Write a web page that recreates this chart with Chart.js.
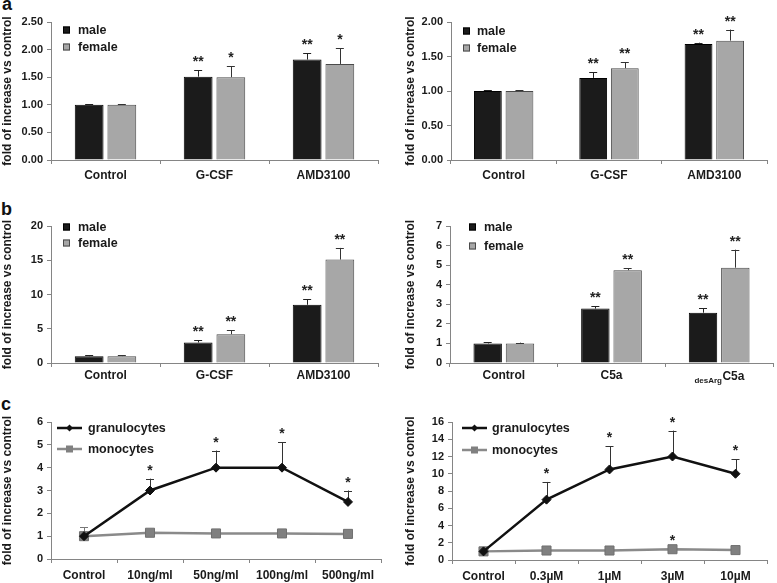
<!DOCTYPE html>
<html>
<head>
<meta charset="utf-8">
<script src="https://cdn.jsdelivr.net/npm/chart.js@4.4.0/dist/chart.umd.min.js"></script>
<style>
  html, body { margin:0; padding:0; background:#fff; }
  body { width:777px; height:583px; position:relative; overflow:hidden; font-family:"Liberation Sans", Arial, sans-serif; }
  canvas { position:absolute; }
  .plab { position:absolute; font-weight:bold; font-size:18px; line-height:18px; color:#111; }
</style>
</head>
<body>
<div class="plab" style="left:2px;top:-5px;">a</div>
<div class="plab" style="left:1px;top:200px;">b</div>
<div class="plab" style="left:1px;top:395px;">c</div>
<canvas id="aL" width="390" height="195" style="left:0px;top:0px"></canvas>
<canvas id="aR" width="374" height="195" style="left:403px;top:0px"></canvas>
<canvas id="bL" width="390" height="195" style="left:0px;top:195px"></canvas>
<canvas id="bR" width="374" height="195" style="left:403px;top:195px"></canvas>
<canvas id="cL" width="390" height="193" style="left:0px;top:390px"></canvas>
<canvas id="cR" width="374" height="193" style="left:403px;top:390px"></canvas>
<script>
// ---------------- DATA ----------------
const yTitle = 'fold of increase vs control';
const sexLabels = ['male', 'female'];
const cellLabels = ['granulocytes', 'monocytes'];

// panel a (left)
const aCats = ['Control', 'G-CSF', 'AMD3100'];
const aLeftMale = [1.00, 1.51, 1.82];
const aLeftMaleErr = [0.01, 0.12, 0.11];
const aLeftMaleSig = ['', '**', '**'];
const aLeftFemale = [1.00, 1.50, 1.74];
const aLeftFemaleErr = [0.01, 0.20, 0.28];
const aLeftFemaleSig = ['', '*', '*'];
const aLeftTicks = [0, 0.5, 1.0, 1.5, 2.0, 2.5];

// panel a (right)
const aRightMale = [1.00, 1.19, 1.68];
const aRightMaleErr = [0.01, 0.08, 0.02];
const aRightMaleSig = ['', '**', '**'];
const aRightFemale = [1.00, 1.33, 1.73];
const aRightFemaleErr = [0.01, 0.09, 0.16];
const aRightFemaleSig = ['', '**', '**'];
const aRightTicks = [0, 0.5, 1.0, 1.5, 2.0];

// panel b (left)
const bLeftCats = ['Control', 'G-CSF', 'AMD3100'];
const bLeftMale = [1.0, 3.0, 8.5];
const bLeftMaleErr = [0.1, 0.3, 0.8];
const bLeftMaleSig = ['', '**', '**'];
const bLeftFemale = [1.0, 4.2, 15.1];
const bLeftFemaleErr = [0.1, 0.6, 1.7];
const bLeftFemaleSig = ['', '**', '**'];
const bLeftTicks = [0, 5, 10, 15, 20];

// panel b (right)
const bRightCats = ['Control', 'C5a', 'desArgC5a'];
const bRightMale = [1.0, 2.78, 2.57];
const bRightMaleErr = [0.05, 0.12, 0.24];
const bRightMaleSig = ['', '**', '**'];
const bRightFemale = [1.0, 4.74, 4.87];
const bRightFemaleErr = [0.04, 0.10, 0.92];
const bRightFemaleSig = ['', '**', '**'];
const bRightTicks = [0, 1, 2, 3, 4, 5, 6, 7];

// panel c (left)
const cLeftCats = ['Control', '10ng/ml', '50ng/ml', '100ng/ml', '500ng/ml'];
const cLeftGran = [1.0, 3.0, 4.0, 4.0, 2.5];
const cLeftGranErr = [0, 0.52, 0.75, 1.12, 0.5];
const cLeftGranSig = ['', '*', '*', '*', '*'];
const cLeftMono = [1.0, 1.15, 1.12, 1.12, 1.1];
const cLeftMonoErr = [0.38, 0, 0, 0, 0];
const cLeftMonoSig = ['', '', '', '', ''];
const cLeftTicks = [0, 1, 2, 3, 4, 5, 6];

// panel c (right)
const cRightCats = ['Control', '0.3µM', '1µM', '3µM', '10µM'];
const cRightGran = [1.0, 7.0, 10.5, 12.0, 10.0];
const cRightGranErr = [0, 2.05, 2.7, 3.0, 1.7];
const cRightGranSig = ['', '*', '*', '*', '*'];
const cRightMono = [1.0, 1.1, 1.1, 1.25, 1.15];
const cRightMonoErr = [0, 0, 0, 0, 0];
const cRightMonoSig = ['', '', '', '*', ''];
const cRightTicks = [0, 2, 4, 6, 8, 10, 12, 14, 16];

// ---------------- STYLE ----------------
const FONT = '"Liberation Sans", Arial, Helvetica, sans-serif';
Chart.defaults.font.family = FONT;
Chart.defaults.font.weight = 'bold';
Chart.defaults.color = '#1a1a1a';
const AXIS = '#858585';
const MALE = '#1b1b1b';
const FEMALE = '#a7a7a7';
const GRAN = '#111111';
const MONO = '#8a8a8a';

const errPlugin = {
  id: 'errbars',
  beforeDatasetsDraw(chart) {
    const ctx = chart.ctx, ys = chart.scales.y;
    chart.data.datasets.forEach((ds, di) => {
      const meta = chart.getDatasetMeta(di);
      meta.data.forEach((el, i) => {
        const e = (ds.errors || [])[i] || 0;
        if (e <= 0) return;
        const yTop = ys.getPixelForValue(ds.data[i] + e);
        ctx.save();
        ctx.strokeStyle = ds.errColor || '#333';
        ctx.lineWidth = 1;
        ctx.beginPath();
        ctx.moveTo(Math.round(el.x) + 0.5, el.y);
        ctx.lineTo(Math.round(el.x) + 0.5, yTop);
        ctx.moveTo(el.x - 4, Math.round(yTop) + 0.5);
        ctx.lineTo(el.x + 4, Math.round(yTop) + 0.5);
        ctx.stroke();
        ctx.restore();
      });
    });
  },
  afterDatasetsDraw(chart) {
    const ctx = chart.ctx, ys = chart.scales.y;
    chart.data.datasets.forEach((ds, di) => {
      const meta = chart.getDatasetMeta(di);
      meta.data.forEach((el, i) => {
        const s = (ds.sig || [])[i];
        if (!s) return;
        const e = (ds.errors || [])[i] || 0;
        const yTop = ys.getPixelForValue(ds.data[i] + e);
        ctx.save();
        ctx.font = 'bold 14px ' + FONT;
        ctx.fillStyle = '#222';
        ctx.textAlign = 'center';
        ctx.textBaseline = 'alphabetic';
        ctx.fillText(s, el.x, yTop - 12 + 8);
        ctx.restore();
      });
    });
  }
};

function legendPlugin(kind, pos) {
  return {
    id: 'insideLegend',
    afterDraw(chart) {
      const ctx = chart.ctx, a = chart.chartArea;
      ctx.save();
      chart.data.datasets.forEach((ds, i) => {
        const y = a.top + pos.ys[i];
        if (kind === 'bar') {
          const x = a.left + pos.box;
          ctx.fillStyle = ds.backgroundColor;
          ctx.strokeStyle = ds.borderColor;
          ctx.lineWidth = 1;
          ctx.fillRect(x, y - 3.5, 7, 7);
          ctx.strokeRect(x + 0.5, y - 3.5 + 0.5, 6, 6);
        } else {
          const x0 = a.left + pos.l0, x1 = a.left + pos.l1;
          ctx.strokeStyle = ds.borderColor;
          ctx.lineWidth = 2.5;
          ctx.beginPath(); ctx.moveTo(x0, y); ctx.lineTo(x1, y); ctx.stroke();
          const cx = (x0 + x1) / 2;
          ctx.fillStyle = ds.pointBackgroundColor;
          if (ds.pointStyle === 'rectRot') {
            ctx.beginPath(); ctx.moveTo(cx, y - 3.5); ctx.lineTo(cx + 3.5, y); ctx.lineTo(cx, y + 3.5); ctx.lineTo(cx - 3.5, y); ctx.closePath(); ctx.fill();
          } else {
            ctx.fillRect(cx - 3.5, y - 3.5, 7, 7);
          }
        }
        ctx.font = 'bold 12.5px ' + FONT;
        ctx.fillStyle = '#1a1a1a';
        ctx.textAlign = 'left';
        ctx.textBaseline = 'middle';
        ctx.fillText(ds.label, a.left + pos.text, y + 0.5);
      });
      ctx.restore();
    }
  };
}

function scalesFor(g, ticksArr, decimals, isLine, xCallback) {
  return {
    x: {
      offset: true,
      border: { color: AXIS, width: 1 },
      grid: { display: true, drawOnChartArea: false, drawTicks: true, tickLength: 4, color: AXIS, offset: true },
      ticks: { padding: g.lp, font: { size: 12, weight: 'bold' }, color: '#1a1a1a', maxRotation: 0, autoSkip: false,
        callback: xCallback || function (v) { return this.getLabelForValue(v); } },
      afterFit(s) { s.height = g.xh; }
    },
    y: {
      min: ticksArr[0], max: ticksArr[ticksArr.length - 1],
      border: { color: AXIS, width: 1 },
      grid: { display: true, drawOnChartArea: false, drawTicks: true, tickLength: 4, color: AXIS },
      afterBuildTicks(s) { s.ticks = ticksArr.map(v => ({ value: v })); },
      ticks: { padding: 4, font: { size: 11, weight: 'bold' }, color: '#1a1a1a',
        callback: v => Number(v).toFixed(decimals) },
      title: { display: true, text: yTitle, font: { size: 12, weight: 'bold' }, color: '#1a1a1a', padding: { top: 0, bottom: 0 } },
      afterFit(s) { s.width = g.yw; }
    }
  };
}

function barPanel(id, g, cats, m, me, ms, f, fe, fs, ticksArr, dec, leg, extraPlugins, xCallback) {
  new Chart(document.getElementById(id), {
    type: 'bar',
    data: {
      labels: cats,
      datasets: [
        { label: sexLabels[0], data: m, errors: me, sig: ms, backgroundColor: MALE, borderColor: '#000', borderWidth: 1,
          categoryPercentage: 0.6, barPercentage: 0.88, errColor: '#222' },
        { label: sexLabels[1], data: f, errors: fe, sig: fs, backgroundColor: FEMALE, borderColor: '#4a4a4a', borderWidth: 1,
          categoryPercentage: 0.6, barPercentage: 0.88, errColor: '#333' }
      ]
    },
    options: {
      responsive: false, animation: false, events: [],
      layout: { padding: { top: g.pt, right: g.pr, left: 0, bottom: 0 } },
      plugins: { legend: { display: false }, tooltip: { enabled: false } },
      scales: scalesFor(g, ticksArr, dec, false, xCallback)
    },
    plugins: [errPlugin, legendPlugin('bar', leg)].concat(extraPlugins || [])
  });
}

function linePanel(id, g, cats, gr, gre, grs, mo, moe, mos, ticksArr, leg) {
  new Chart(document.getElementById(id), {
    type: 'line',
    data: {
      labels: cats,
      datasets: [
        { label: cellLabels[1], data: mo, errors: moe, sig: mos, borderColor: MONO, backgroundColor: MONO, borderWidth: 2.5,
          pointStyle: 'rect', pointRadius: 6.4, pointBackgroundColor: '#808080', pointBorderColor: '#707070', pointBorderWidth: 1,
          tension: 0, errColor: '#777', order: 2 },
        { label: cellLabels[0], data: gr, errors: gre, sig: grs, borderColor: GRAN, backgroundColor: GRAN, borderWidth: 2.5,
          pointStyle: 'rectRot', pointRadius: 4.5, pointBackgroundColor: GRAN, pointBorderColor: GRAN, pointBorderWidth: 1,
          tension: 0, errColor: '#333', order: 1 }
      ]
    },
    options: {
      responsive: false, animation: false, events: [],
      layout: { padding: { top: g.pt, right: g.pr, left: 0, bottom: 0 } },
      plugins: { legend: { display: false }, tooltip: { enabled: false } },
      scales: scalesFor(g, ticksArr, 0, true)
    },
    plugins: [errPlugin, legendPlugin('line', leg)]
  });
}

// geometry (canvas-relative): yw = y-axis width, xh = x-axis height, pt = top pad, pr = right pad, lp = x label padding
barPanel('aL', { yw: 51, xh: 35, pt: 22, pr: 12, lp: 4 }, aCats, aLeftMale, aLeftMaleErr, aLeftMaleSig,
  aLeftFemale, aLeftFemaleErr, aLeftFemaleSig, aLeftTicks, 2, { box: 12, ys: [8, 25], text: 27 });
barPanel('aR', { yw: 48, xh: 35, pt: 22, pr: 10, lp: 4 }, aCats, aRightMale, aRightMaleErr, aRightMaleSig,
  aRightFemale, aRightFemaleErr, aRightFemaleSig, aRightTicks, 2, { box: 12, ys: [9, 26], text: 26 });
barPanel('bL', { yw: 51, xh: 27, pt: 31, pr: 12, lp: 1 }, bLeftCats, bLeftMale, bLeftMaleErr, bLeftMaleSig,
  bLeftFemale, bLeftFemaleErr, bLeftFemaleSig, bLeftTicks, 0, { box: 12, ys: [1, 17], text: 27 });

const desArgPlugin = {
  id: 'desArg',
  afterDraw(chart) {
    const xs = chart.scales.x, ctx = chart.ctx;
    const cx = xs.getPixelForTick(2);
    const y = xs.top + 4 + 1 + 12;
    ctx.save();
    ctx.fillStyle = '#1a1a1a';
    ctx.textBaseline = 'alphabetic';
    ctx.textAlign = 'left';
    ctx.font = 'bold 8px ' + FONT;
    const sub = 'desArg';
    const main = 'C5a';
    const w1 = ctx.measureText(sub).width;
    ctx.font = 'bold 12px ' + FONT;
    const w2 = ctx.measureText(main).width;
    const x0 = cx - (w1 + w2) / 2;
    ctx.font = 'bold 8px ' + FONT;
    ctx.fillText(sub, x0, y + 3);
    ctx.font = 'bold 12px ' + FONT;
    ctx.fillText(main, x0 + w1 + 0.5, y);
    ctx.restore();
  }
};
barPanel('bR', { yw: 47, xh: 27, pt: 31, pr: 4, lp: 1 }, bRightCats, bRightMale, bRightMaleErr, bRightMaleSig,
  bRightFemale, bRightFemaleErr, bRightFemaleSig, bRightTicks, 0, { box: 19, ys: [1, 20], text: 34 },
  [desArgPlugin], function (v, i) { return i === 2 ? '' : this.getLabelForValue(v); });

linePanel('cL', { yw: 51, xh: 24, pt: 32, pr: 9, lp: 5 }, cLeftCats, cLeftGran, cLeftGranErr, cLeftGranSig,
  cLeftMono, cLeftMonoErr, cLeftMonoSig, cLeftTicks, { l0: 6, l1: 31, ys: [27, 6], text: 37 });
linePanel('cR', { yw: 49, xh: 23, pt: 32, pr: 10, lp: 5 }, cRightCats, cRightGran, cRightGranErr, cRightGranSig,
  cRightMono, cRightMonoErr, cRightMonoSig, cRightTicks, { l0: 10, l1: 35, ys: [28, 6], text: 40 });
</script>
</body>
</html>
